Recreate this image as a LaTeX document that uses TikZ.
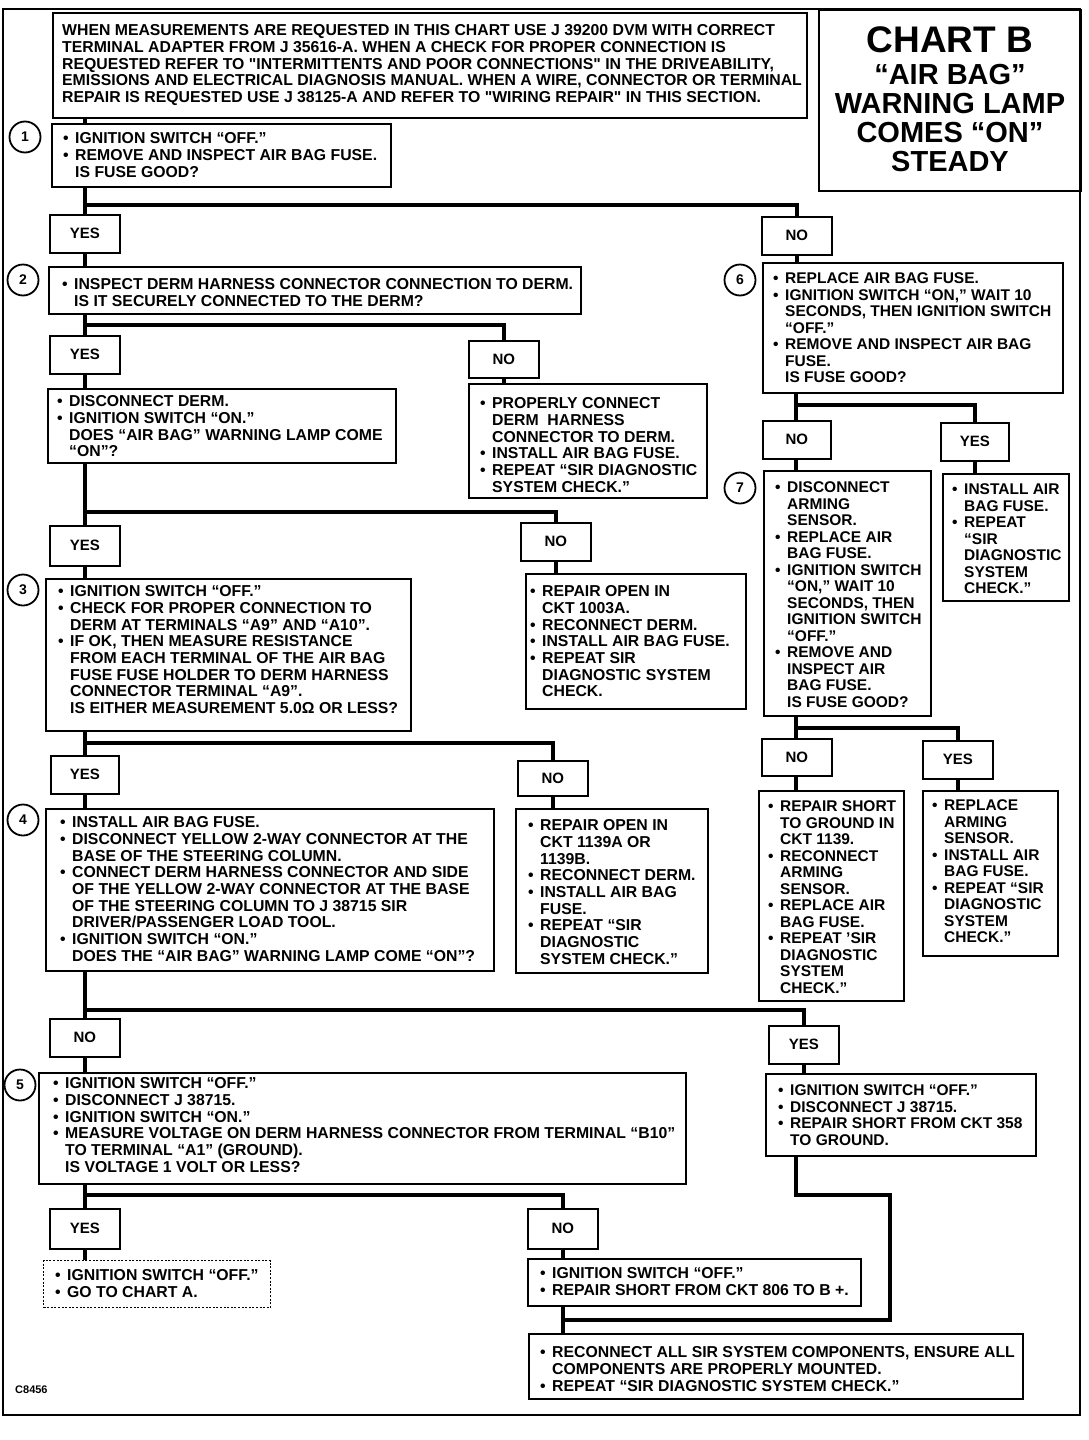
\documentclass[tikz,border=0pt]{standalone}
\usepackage{fontspec}
\setmainfont{Liberation Sans}
\usetikzlibrary{calc}
\newcommand\fsL{\fontsize{15.8}{16.7}\selectfont\bfseries}
\newcommand\fsR{\fontsize{15.5}{16.5}\selectfont\bfseries}
\newcommand\bu{\makebox[12pt][l]{•}}
\newcommand\ii{\hspace*{12pt}}
\newcommand\qd{\textquotedbl}
\tikzset{
  box/.style={draw, line width=1.6pt, rectangle, inner sep=0pt, anchor=north west},
  dbox/.style={draw, line width=1.3pt, dash pattern=on 2pt off 1.6pt, rectangle, inner sep=0pt, anchor=north west},
  txt/.style={anchor=north west, align=left, inner sep=0pt, font=\fsL},
  txtr/.style={anchor=north west, align=left, inner sep=0pt, font=\fsR},
  yn/.style={draw, line width=1.6pt, rectangle, inner sep=0pt, anchor=north west, font=\fontsize{15}{15}\selectfont\bfseries},
  conn/.style={line width=3.6pt},
  num/.style={circle, draw, line width=1.8pt, minimum size=31pt, inner sep=0pt, font=\fontsize{14}{14}\selectfont\bfseries},
  ttl/.style={anchor=center, inner sep=0pt, font=\fontsize{29}{29}\selectfont\bfseries}
}
\begin{document}
\begin{tikzpicture}[x=1pt,y=-1pt]
\useasboundingbox (0,0) rectangle (1088,1440);
% outer frame
\draw[line width=2.5pt] (3,9) rectangle (1080,1415);
\coordinate (spine) at (85,0);
\coordinate (rspine) at (796,0);
% title
\node[box, minimum width=262pt, minimum height=181pt] (title) at (818,9) {};
\node[ttl, font=\fontsize{37}{37}\selectfont\bfseries] (t1) at (950,40) {CHART B};
\node[ttl] (t2) at (950,75) {“AIR BAG”};
\node[ttl] (t3) at (950,104) {WARNING LAMP};
\node[ttl] (t4) at (950,133) {COMES “ON”};
\node[ttl] (t5) at (950,162) {STEADY};
% note
\node[box, minimum width=754pt, minimum height=105pt] (note) at (52,12) {};
\node[txt] (notet) at (62,24.5) {WHEN MEASUREMENTS ARE REQUESTED IN THIS CHART USE J 39200 DVM WITH CORRECT\\
TERMINAL ADAPTER FROM J 35616-A. WHEN A CHECK FOR PROPER CONNECTION IS\\
REQUESTED REFER TO \qd INTERMITTENTS AND POOR CONNECTIONS\qd\ IN THE DRIVEABILITY,\\
EMISSIONS AND ELECTRICAL DIAGNOSIS MANUAL. WHEN A WIRE, CONNECTOR OR TERMINAL\\
REPAIR IS REQUESTED USE J 38125-A AND REFER TO \qd WIRING REPAIR\qd\ IN THIS SECTION.};
% circles
\node[num] (c1) at (25,137) {1};
\node[num] (c2) at (23,280) {2};
\node[num] (c3) at (23,590) {3};
\node[num] (c4) at (23,820) {4};
\node[num] (c5) at (20,1085) {5};
\node[num] (c6) at (740,280) {6};
\node[num] (c7) at (740,488) {7};
% box 1
\node[box, minimum width=339pt, minimum height=63pt] (b1) at (51,123) {};
\node[txt] (b1t) at (63,132.5) {\bu IGNITION SWITCH “OFF.”\\ \bu REMOVE AND INSPECT AIR BAG FUSE.\\ \ii IS FUSE GOOD?};
\node[yn, minimum width=70pt, minimum height=38pt] (y1) at (49,214) {YES};
\node[yn, minimum width=70pt, minimum height=38pt] (n1) at (761,216) {NO};
% box 2
\node[box, minimum width=532pt, minimum height=47pt] (b2) at (48,266) {};
\node[txt] (b2t) at (62,278.5) {\bu INSPECT DERM HARNESS CONNECTOR CONNECTION TO DERM.\\ \ii IS IT SECURELY CONNECTED TO THE DERM?};
\node[yn, minimum width=70pt, minimum height=38pt] (y2) at (49,335) {YES};
\node[yn, minimum width=70pt, minimum height=37pt] (n2) at (468,340) {NO};
\node[box, minimum width=348pt, minimum height=74pt] (b2y) at (47,388) {};
\node[txt] (b2yt) at (57,395.5) {\bu DISCONNECT DERM.\\ \bu IGNITION SWITCH “ON.”\\ \ii DOES “AIR BAG” WARNING LAMP COME\\ \ii “ON”?};
\node[box, minimum width=238pt, minimum height=114pt] (b2n) at (468,383) {};
\node[txt] (b2nt) at (480,397.5) {\bu PROPERLY CONNECT\\ \ii DERM\ \ HARNESS\\ \ii CONNECTOR TO DERM.\\ \bu INSTALL AIR BAG FUSE.\\ \bu REPEAT “SIR DIAGNOSTIC\\ \ii SYSTEM CHECK.”};
% box 3
\node[yn, minimum width=70pt, minimum height=40pt] (y3) at (49,525) {YES};
\node[yn, minimum width=70pt, minimum height=38pt] (n3) at (520,522) {NO};
\node[box, minimum width=365pt, minimum height=152pt] (b3) at (45,578) {};
\node[txt] (b3t) at (58,585.5) {\bu IGNITION SWITCH “OFF.”\\ \bu CHECK FOR PROPER CONNECTION TO\\ \ii DERM AT TERMINALS “A9” AND “A10”.\\ \bu IF OK, THEN MEASURE RESISTANCE\\ \ii FROM EACH TERMINAL OF THE AIR BAG\\ \ii FUSE FUSE HOLDER TO DERM HARNESS\\ \ii CONNECTOR TERMINAL “A9”.\\ \ii IS EITHER MEASUREMENT 5.0Ω OR LESS?};
\node[box, minimum width=220pt, minimum height=135pt] (b3n) at (525,573) {};
\node[txt] (b3nt) at (530,585.5) {\bu REPAIR OPEN IN\\ \ii CKT 1003A.\\ \bu RECONNECT DERM.\\ \bu INSTALL AIR BAG FUSE.\\ \bu REPEAT SIR\\ \ii DIAGNOSTIC SYSTEM\\ \ii CHECK.};
% box 4
\node[yn, minimum width=68pt, minimum height=38pt] (y4) at (50,755) {YES};
\node[yn, minimum width=70pt, minimum height=35pt] (n4) at (517,760) {NO};
\node[box, minimum width=448pt, minimum height=162pt] (b4) at (45,808) {};
\node[txt] (b4t) at (60,816.5) {\bu INSTALL AIR BAG FUSE.\\ \bu DISCONNECT YELLOW 2-WAY CONNECTOR AT THE\\ \ii BASE OF THE STEERING COLUMN.\\ \bu CONNECT DERM HARNESS CONNECTOR AND SIDE\\ \ii OF THE YELLOW 2-WAY CONNECTOR AT THE BASE\\ \ii OF THE STEERING COLUMN TO J 38715 SIR\\ \ii DRIVER/PASSENGER LOAD TOOL.\\ \bu IGNITION SWITCH “ON.”\\ \ii DOES THE “AIR BAG” WARNING LAMP COME “ON”?};
\node[box, minimum width=192pt, minimum height=164pt] (b4n) at (515,808) {};
\node[txt] (b4nt) at (528,819.5) {\bu REPAIR OPEN IN\\ \ii CKT 1139A OR\\ \ii 1139B.\\ \bu RECONNECT DERM.\\ \bu INSTALL AIR BAG\\ \ii FUSE.\\ \bu REPEAT “SIR\\ \ii DIAGNOSTIC\\ \ii SYSTEM CHECK.”};
% box 5
\node[yn, minimum width=70pt, minimum height=38pt] (n5) at (49,1018) {NO};
\node[yn, minimum width=70pt, minimum height=38pt] (y5) at (768,1025) {YES};
\node[box, minimum width=647pt, minimum height=111pt] (b5) at (38,1072) {};
\node[txt] (b5t) at (53,1077.5) {\bu IGNITION SWITCH “OFF.”\\ \bu DISCONNECT J 38715.\\ \bu IGNITION SWITCH “ON.”\\ \bu MEASURE VOLTAGE ON DERM HARNESS CONNECTOR FROM TERMINAL “B10”\\ \ii TO TERMINAL “A1” (GROUND).\\ \ii IS VOLTAGE 1 VOLT OR LESS?};
\node[box, minimum width=270pt, minimum height=82pt] (b5y) at (765,1073) {};
\node[txtr] (b5yt) at (778,1084.5) {\bu IGNITION SWITCH “OFF.”\\ \bu DISCONNECT J 38715.\\ \bu REPAIR SHORT FROM CKT 358\\ \ii TO GROUND.};
% box 5 branches
\node[yn, minimum width=70pt, minimum height=40pt] (y6) at (49,1208) {YES};
\node[yn, minimum width=70pt, minimum height=40pt] (n6) at (527,1208) {NO};
\node[dbox, minimum width=227pt, minimum height=47pt] (dsh) at (43,1260) {};
\node[txt] (dsht) at (55,1269.5) {\bu IGNITION SWITCH “OFF.”\\ \bu GO TO CHART A.};
\node[box, minimum width=333pt, minimum height=47pt] (b5n) at (527,1258) {};
\node[txt] (b5nt) at (540,1267.5) {\bu IGNITION SWITCH “OFF.”\\ \bu REPAIR SHORT FROM CKT 806 TO B +.};
\node[box, minimum width=494pt, minimum height=65pt] (fin) at (528,1333) {};
\node[txt] (fint) at (540,1346.5) {\bu RECONNECT ALL SIR SYSTEM COMPONENTS, ENSURE ALL\\ \ii COMPONENTS ARE PROPERLY MOUNTED.\\ \bu REPEAT “SIR DIAGNOSTIC SYSTEM CHECK.”};
% right column
\node[box, minimum width=300pt, minimum height=130pt] (b6) at (762,262) {};
\node[txtr] (b6t) at (773,272.5) {\bu REPLACE AIR BAG FUSE.\\ \bu IGNITION SWITCH “ON,” WAIT 10\\ \ii SECONDS, THEN IGNITION SWITCH\\ \ii “OFF.”\\ \bu REMOVE AND INSPECT AIR BAG\\ \ii FUSE.\\ \ii IS FUSE GOOD?};
\node[yn, minimum width=68pt, minimum height=38pt] (n7) at (762,420) {NO};
\node[yn, minimum width=68pt, minimum height=38pt] (y7) at (940,422) {YES};
\node[box, minimum width=167pt, minimum height=245pt] (b7) at (763,470) {};
\node[txtr] (b7t) at (775,481.5) {\bu DISCONNECT\\ \ii ARMING\\ \ii SENSOR.\\ \bu REPLACE AIR\\ \ii BAG FUSE.\\ \bu IGNITION SWITCH\\ \ii “ON,” WAIT 10\\ \ii SECONDS, THEN\\ \ii IGNITION SWITCH\\ \ii “OFF.”\\ \bu REMOVE AND\\ \ii INSPECT AIR\\ \ii BAG FUSE.\\ \ii IS FUSE GOOD?};
\node[box, minimum width=126pt, minimum height=127pt] (b7y) at (942,473) {};
\node[txtr] (b7yt) at (952,483.5) {\bu INSTALL AIR\\ \ii BAG FUSE.\\ \bu REPEAT\\ \ii “SIR\\ \ii DIAGNOSTIC\\ \ii SYSTEM\\ \ii CHECK.”};
\node[yn, minimum width=70pt, minimum height=37pt] (n8) at (761,738) {NO};
\node[yn, minimum width=70pt, minimum height=38pt] (y8) at (922,740) {YES};
\node[box, minimum width=145pt, minimum height=210pt] (b8n) at (758,790) {};
\node[txtr] (b8nt) at (768,800.5) {\bu REPAIR SHORT\\ \ii TO GROUND IN\\ \ii CKT 1139.\\ \bu RECONNECT\\ \ii ARMING\\ \ii SENSOR.\\ \bu REPLACE AIR\\ \ii BAG FUSE.\\ \bu REPEAT 'SIR\\ \ii DIAGNOSTIC\\ \ii SYSTEM\\ \ii CHECK.”};
\node[box, minimum width=135pt, minimum height=165pt] (b8y) at (922,790) {};
\node[txtr] (b8yt) at (932,799.5) {\bu REPLACE\\ \ii ARMING\\ \ii SENSOR.\\ \bu INSTALL AIR\\ \ii BAG FUSE.\\ \bu REPEAT “SIR\\ \ii DIAGNOSTIC\\ \ii SYSTEM\\ \ii CHECK.”};
\node[anchor=west, inner sep=0pt, font=\fontsize{11}{11}\selectfont\bfseries] (code) at (15,1390) {C8456};
% junction coordinates
\coordinate (j1) at (0,205);
\coordinate (j2) at (0,325);
\coordinate (j3) at (0,512);
\coordinate (j4) at (0,743);
\coordinate (j5) at (0,1010);
\coordinate (j6) at (0,1195);
\coordinate (j7) at (0,405);
\coordinate (j8) at (0,728);
\coordinate (r1) at (890,1195);
\coordinate (r2) at (890,1320);
% connectors left spine
\draw[conn] (spine |- note.south) -- (spine |- b1.north);
\draw[conn] (spine |- b1.south) -- (spine |- y1.north);
\draw[conn] (spine |- j1) -| (n1.north);
\draw[conn] (spine |- y1.south) -- (spine |- b2.north);
\draw[conn] (n1.south) -- (n1.south |- b6.north);
\draw[conn] (spine |- b2.south) -- (spine |- y2.north);
\draw[conn] (spine |- j2) -| (n2.north);
\draw[conn] (spine |- y2.south) -- (spine |- b2y.north);
\draw[conn] (n2.south) -- (n2.south |- b2n.north);
\draw[conn] (spine |- b2y.south) -- (spine |- y3.north);
\draw[conn] (spine |- j3) -| (n3.north);
\draw[conn] (spine |- y3.south) -- (spine |- b3.north);
\draw[conn] (n3.south) -- (n3.south |- b3n.north);
\draw[conn] (spine |- b3.south) -- (spine |- y4.north);
\draw[conn] (spine |- j4) -| (n4.north);
\draw[conn] (spine |- y4.south) -- (spine |- b4.north);
\draw[conn] (n4.south) -- (n4.south |- b4n.north);
\draw[conn] (spine |- b4.south) -- (spine |- n5.north);
\draw[conn] (spine |- j5) -| (y5.north);
\draw[conn] (spine |- n5.south) -- (spine |- b5.north);
\draw[conn] (y5.south) -- (y5.south |- b5y.north);
\draw[conn] (spine |- b5.south) -- (spine |- y6.north);
\draw[conn] (spine |- j6) -| (n6.north);
\draw[conn] (spine |- y6.south) -- (spine |- dsh.north);
\draw[conn] (n6.south) -- (n6.south |- b5n.north);
\draw[conn] (n6.south |- b5n.south) -- (n6.south |- fin.north);
\draw[conn] (rspine |- b5y.south) -- (rspine |- r1) -- (r1) -- (r2) -- (n6.south |- r2);
% right spine
\draw[conn] (rspine |- b6.south) -- (rspine |- n7.north);
\draw[conn] (rspine |- j7) -| (y7.north);
\draw[conn] (rspine |- n7.south) -- (rspine |- b7.north);
\draw[conn] (y7.south) -- (y7.south |- b7y.north);
\draw[conn] (rspine |- b7.south) -- (rspine |- n8.north);
\draw[conn] (rspine |- j8) -| (y8.north);
\draw[conn] (rspine |- n8.south) -- (rspine |- b8n.north);
\draw[conn] (y8.south) -- (y8.south |- b8y.north);
\end{tikzpicture}
\end{document}
